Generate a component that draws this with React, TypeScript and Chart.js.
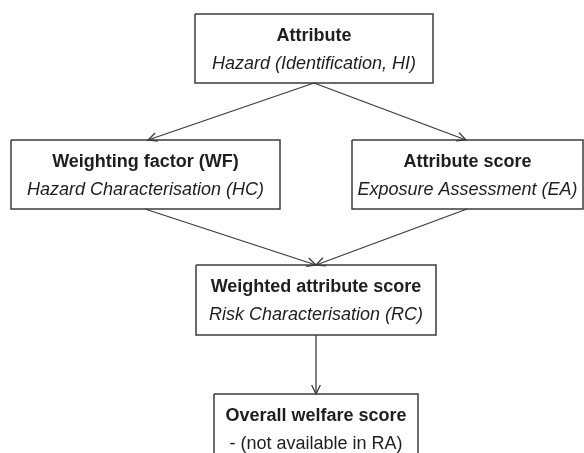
import React, { useEffect, useRef } from "react";
import { Chart, registerables } from "chart.js";

Chart.register(...registerables);

// ---- data ----
const nodeTitles = [
  "Attribute",
  "Weighting factor (WF)",
  "Attribute score",
  "Weighted attribute score",
  "Overall welfare score",
];
const nodeSubtitles = [
  "Hazard (Identification, HI)",
  "Hazard Characterisation (HC)",
  "Exposure Assessment (EA)",
  "Risk Characterisation (RC)",
  "- (not available in RA)",
];
const subtitleItalic = [true, true, true, true, false];
const edgeFrom = [0, 0, 1, 2, 3];
const edgeTo = [1, 2, 3, 3, 4];

// ---- layout (in a 584 x 453 value space) ----
const nodeCx = [314, 145.5, 467.5, 316, 316];
const nodeTop = [14, 140, 140, 265, 394];
const nodeW = [238, 269, 231, 240, 204];
const nodeH = [69, 69, 69, 70, 70];
const edgeStartX = [314, 314, 145, 467, 316];
const edgeEndX = [148, 466, 316, 316, 316];

const LINE = "#3c3c3c";
const TEXT = "#1e1e1e";
const FONT = "'Liberation Sans', Arial, Helvetica, sans-serif";

function boxPoints() {
  const pts: any[] = [];
  nodeTitles.forEach((_, i) => {
    const l = nodeCx[i] - nodeW[i] / 2;
    const r = nodeCx[i] + nodeW[i] / 2;
    const t = nodeTop[i];
    const b = nodeTop[i] + nodeH[i];
    pts.push({ x: l, y: t }, { x: r, y: t }, { x: r, y: b }, { x: l, y: b }, { x: l, y: t }, { x: l, y: null });
  });
  return pts;
}

function edgePoints() {
  const pts: any[] = [];
  edgeFrom.forEach((f, k) => {
    const t = edgeTo[k];
    pts.push(
      { x: edgeStartX[k], y: nodeTop[f] + nodeH[f] },
      { x: edgeEndX[k], y: nodeTop[t] },
      { x: edgeEndX[k], y: null }
    );
  });
  return pts;
}

const labelsPlugin = {
  id: "flowLabels",
  afterDatasetsDraw(chart: any) {
    const { ctx, scales } = chart;
    const xs = scales.x;
    const ys = scales.y;
    ctx.save();
    // arrowheads
    ctx.strokeStyle = LINE;
    ctx.lineWidth = 1.3;
    edgeFrom.forEach((f, k) => {
      const t = edgeTo[k];
      const x1 = xs.getPixelForValue(edgeStartX[k]);
      const y1 = ys.getPixelForValue(nodeTop[f] + nodeH[f]);
      const x2 = xs.getPixelForValue(edgeEndX[k]);
      const y2 = ys.getPixelForValue(nodeTop[t]);
      const ang = Math.atan2(y2 - y1, x2 - x1);
      const len = 10;
      const spread = 0.45;
      ctx.beginPath();
      ctx.moveTo(x2 - len * Math.cos(ang - spread), y2 - len * Math.sin(ang - spread));
      ctx.lineTo(x2, y2);
      ctx.lineTo(x2 - len * Math.cos(ang + spread), y2 - len * Math.sin(ang + spread));
      ctx.stroke();
    });
    // texts
    ctx.fillStyle = TEXT;
    ctx.textAlign = "center";
    ctx.textBaseline = "middle";
    nodeTitles.forEach((title, i) => {
      const cx = xs.getPixelForValue(nodeCx[i]);
      ctx.font = `bold 18px ${FONT}`;
      ctx.fillText(title, cx, ys.getPixelForValue(nodeTop[i] + 22));
      ctx.font = `${subtitleItalic[i] ? "italic " : ""}18px ${FONT}`;
      ctx.fillText(nodeSubtitles[i], cx, ys.getPixelForValue(nodeTop[i] + 50));
    });
    ctx.restore();
  },
};

export default function App() {
  const ref = useRef<HTMLCanvasElement | null>(null);
  useEffect(() => {
    document.body.style.margin = "0";
    const chart = new Chart(ref.current as HTMLCanvasElement, {
      type: "scatter",
      data: {
        datasets: [
          {
            data: boxPoints(),
            showLine: true,
            spanGaps: false,
            borderColor: LINE,
            borderWidth: 1.5,
            pointRadius: 0,
            fill: false,
          },
          {
            data: edgePoints(),
            showLine: true,
            spanGaps: false,
            borderColor: LINE,
            borderWidth: 1.3,
            pointRadius: 0,
            fill: false,
          },
        ],
      },
      options: {
        animation: false,
        responsive: false,
        layout: { padding: 0 },
        plugins: { legend: { display: false }, tooltip: { enabled: false }, title: { display: false } },
        scales: {
          x: { type: "linear", min: 0, max: 584, display: false },
          y: { type: "linear", min: 0, max: 453, reverse: true, display: false },
        },
        clip: false as any,
      },
      plugins: [labelsPlugin],
    });
    return () => chart.destroy();
  }, []);
  return (
    <div style={{ position: "absolute", left: 0, top: 0, width: 584, height: 453, background: "#fff" }}>
      <canvas ref={ref} width={584} height={453} />
    </div>
  );
}
